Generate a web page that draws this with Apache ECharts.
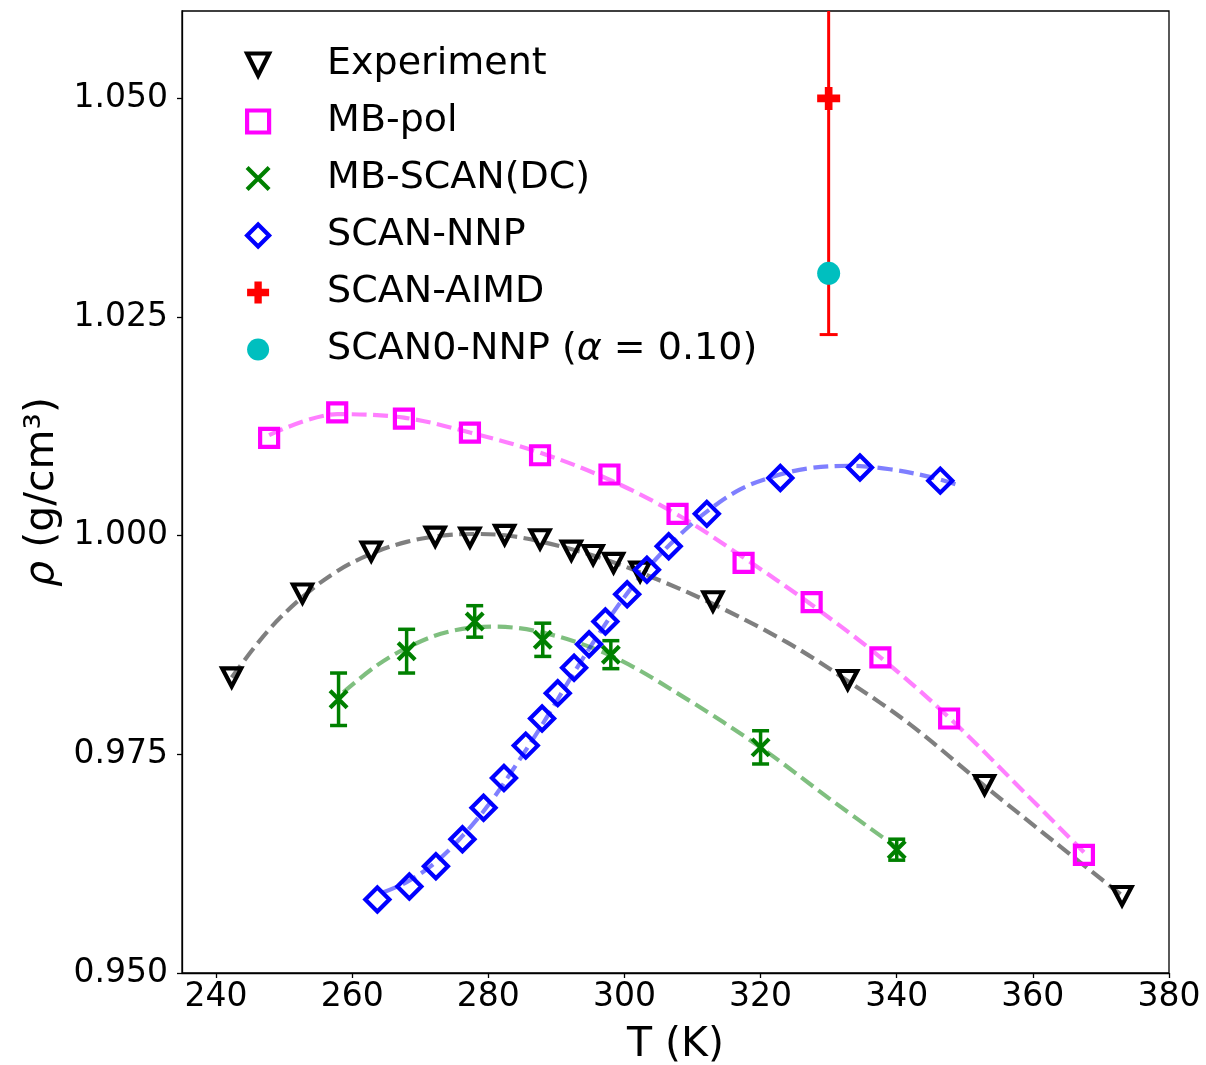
<!DOCTYPE html>
<html><head><meta charset="utf-8">
<script src="https://cdn.jsdelivr.net/npm/echarts@6/dist/echarts.min.js"></script>
<style>html,body{margin:0;padding:0;background:#fff}#c{width:1206px;height:1065px}</style>
</head><body><div id="c"></div>
<script>
// ---- data ----
const expT   = [242.3, 252.7, 262.8, 272.2, 277.3, 282.4, 287.6, 292.2, 295.4, 298.4, 302.3, 313.0, 332.8, 352.9, 373.1];
const expRho = [0.9838, 0.9934, 0.9982, 0.9999, 0.9998, 1.0001, 0.9996, 0.9983, 0.9978, 0.9969, 0.9959, 0.9925, 0.9835, 0.9715, 0.9588];

const mbpolT   = [247.8, 257.8, 267.6, 277.3, 287.6, 297.8, 307.8, 317.5, 327.5, 337.6, 347.7, 367.5];
const mbpolRho = [1.0112, 1.0141, 1.0134, 1.0118, 1.0092, 1.0070, 1.0025, 0.9969, 0.9924, 0.9861, 0.9791, 0.9635];

const mbscanT   = [258, 268, 278, 288, 298, 320, 340];
const mbscanRho = [0.9813, 0.9868, 0.9902, 0.9881, 0.9864, 0.9758, 0.9641];
const mbscanErr = [0.0030, 0.0025, 0.0018, 0.0019, 0.0016, 0.0019, 0.0012];

const nnpT   = [263.7, 268.4, 272.3, 276.2, 279.3, 282.3, 285.5, 287.9, 290.2, 292.6, 294.8, 297.2, 300.4, 303.3, 306.5, 312.1, 322.9, 334.6, 346.4];
const nnpRho = [0.9584, 0.9599, 0.9622, 0.9653, 0.9689, 0.9723, 0.9760, 0.9791, 0.9820, 0.9849, 0.9876, 0.9902, 0.9933, 0.9961, 0.9988, 1.0025, 1.0066, 1.0078, 1.0063];

const aimdT = [330], aimdRho = [1.050], aimdErr = [0.027];
const scan0T = [330], scan0Rho = [1.030];

// fitted (dashed) curves
const expFitT   = [242.3, 247.6, 252.7, 257.9, 263.0, 268.0, 273.0, 278.0, 283.0, 289.0, 296.0, 303.6, 313.0, 323.9, 332.8, 342.0, 352.9, 363.0, 373.2];
const expFitRho = [0.9838, 0.9891, 0.9930, 0.9960, 0.9980, 0.9993, 1.0000, 1.0002, 1.0000, 0.9991, 0.9976, 0.9954, 0.9922, 0.9878, 0.9834, 0.9784, 0.9714, 0.9651, 0.9588];

const mbpolFitT   = [247.8, 257.8, 267.6, 277.3, 287.6, 297.8, 307.8, 317.5, 327.5, 337.6, 347.7, 358.7, 367.5];
const mbpolFitRho = [1.0115, 1.0139, 1.0135, 1.0118, 1.0095, 1.0064, 1.0024, 0.9975, 0.9921, 0.9861, 0.9792, 0.9707, 0.9638];

const mbscanFitT   = [258.7, 263.5, 268.1, 274.0, 280.8, 288.7, 298.5, 309.0, 320.0, 330.0, 340.1];
const mbscanFitRho = [0.9821, 0.9851, 0.9872, 0.9890, 0.9896, 0.9888, 0.9861, 0.9814, 0.9758, 0.9700, 0.9643];

const nnpFitT   = [264.5, 268, 272, 276, 280, 284, 288, 292, 296, 300, 304, 308, 312, 317, 322, 327, 333, 339, 345, 349.4];
const nnpFitRho = [0.9592, 0.9604, 0.9625, 0.9655, 0.9692, 0.9737, 0.9785, 0.9836, 0.9885, 0.9930, 0.9968, 1.0000, 1.0027, 1.0053, 1.0068, 1.0077, 1.0080, 1.0076, 1.0067, 1.0057];

const xTicks = [240, 260, 280, 300, 320, 340, 360, 380];
const yTicks = [0.950, 0.975, 1.000, 1.025, 1.050];

// ---- styling ----
const FONT = 'DejaVu Sans';
const TRI_DOWN = 'path://M0,0L2,0L1,2Z';
const XMARK = 'path://M0,0L2,2M2,0L0,2';
const PLUS = 'path://M1,0H2V1H3V2H2V3H1V2H0V1H1Z';
const SCAN0_NAME = 'SCAN0-NNP (α = 0.10)';

function zip(a, b) { return a.map((v, i) => [v, b[i]]); }

function fitLine(name, T, R, color) {
  return { type: 'line', name: name, data: zip(T, R), symbol: 'none', showSymbol: false,
    smooth: 0.35,
    lineStyle: { color: color, width: 4.2, type: [15, 6.5] }, z: 1, silent: true };
}

function errSeries(name, T, R, E, color, lw, hw, z) {
  return {
    type: 'custom', name: name, z: z, silent: true,
    data: T.map((t, i) => [t, R[i] - E[i], R[i] + E[i]]),
    encode: { x: 0, y: [1, 2] },
    renderItem: function (params, api) {
      const x = api.value(0);
      const lo = api.coord([x, api.value(1)]);
      const hi = api.coord([x, api.value(2)]);
      const cs = params.coordSys;
      const top = Math.max(hi[1], cs.y);
      const st = { stroke: color, lineWidth: lw };
      const ch = [
        { type: 'line', shape: { x1: lo[0], y1: lo[1], x2: lo[0], y2: top }, style: st },
        { type: 'line', shape: { x1: lo[0] - hw, y1: lo[1], x2: lo[0] + hw, y2: lo[1] }, style: st }
      ];
      if (hi[1] >= cs.y) ch.push({ type: 'line', shape: { x1: hi[0] - hw, y1: hi[1], x2: hi[0] + hw, y2: hi[1] }, style: st });
      return { type: 'group', children: ch };
    }
  };
}

function hollow(color) { return { color: 'transparent', borderColor: color, borderWidth: 4.2, opacity: 1 }; }

const chart = echarts.init(document.getElementById('c'), null, { renderer: 'canvas' });
chart.setOption({
  animation: false,
  backgroundColor: '#fff',
  grid: { left: 182, right: 37, top: 11, bottom: 92, show: true, borderColor: '#000', borderWidth: 1.3,
          containLabel: false, outerBoundsMode: 'none' },
  xAxis: {
    type: 'value', min: 235, max: 380,
    axisLine: { show: true, onZero: false, lineStyle: { color: '#000', width: 1.3 } },
    axisTick: { show: true, length: 5, customValues: xTicks, lineStyle: { color: '#000', width: 1.3 } },
    axisLabel: { customValues: xTicks, fontSize: 33, fontFamily: FONT, color: '#000', margin: 8 },
    splitLine: { show: false },
    name: 'T (K)', nameLocation: 'middle', nameGap: 52,
    nameTextStyle: { fontSize: 41, fontFamily: FONT, color: '#000' }
  },
  yAxis: {
    type: 'value', min: 0.95, max: 1.06,
    axisLine: { show: true, onZero: false, lineStyle: { color: '#000', width: 1.3 } },
    axisTick: { show: true, length: 5, customValues: yTicks, lineStyle: { color: '#000', width: 1.3 } },
    axisLabel: { customValues: yTicks, fontSize: 33, fontFamily: FONT, color: '#000', margin: 14,
                 formatter: v => Number(v).toFixed(3) },
    splitLine: { show: false },
    name: '{i|ρ} (g/cm³)', nameLocation: 'middle', nameGap: 110,
    nameTextStyle: { fontSize: 41, fontFamily: FONT, color: '#000',
      rich: { i: { fontSize: 41, fontFamily: FONT, fontStyle: 'italic', color: '#000' } } }
  },
  legend: {
    orient: 'vertical', left: 240, top: 37, itemWidth: 22, itemHeight: 22, itemGap: 12,
    selectedMode: false,
    formatter: name => name === SCAN0_NAME ? '{t|SCAN0-NNP (}{a|α}{t| = 0.10)}' : name,
    textStyle: { fontSize: 38, fontFamily: FONT, color: '#000', lineHeight: 45, padding: [0, 0, 0, 53],
      rich: { t: { fontSize: 38, fontFamily: FONT, color: '#000', lineHeight: 45 },
              a: { fontSize: 38, fontFamily: FONT, fontStyle: 'italic', color: '#000', lineHeight: 45 } } },
    data: [
      { name: 'Experiment', icon: TRI_DOWN, itemStyle: hollow('#000') },
      { name: 'MB-pol', icon: 'rect', itemStyle: hollow('#ff00ff') },
      { name: 'MB-SCAN(DC)', icon: XMARK, itemStyle: hollow('#008000') },
      { name: 'SCAN-NNP', icon: 'diamond', itemStyle: hollow('#0000ff') },
      { name: 'SCAN-AIMD', icon: PLUS, itemStyle: { color: '#ff0000', borderWidth: 0, opacity: 1 } },
      { name: SCAN0_NAME, icon: 'circle', itemStyle: { color: '#00bfbf', borderWidth: 0, opacity: 1 } }
    ]
  },
  series: [
    fitLine('expFit', expFitT, expFitRho, 'rgba(0,0,0,0.5)'),
    fitLine('mbpolFit', mbpolFitT, mbpolFitRho, 'rgba(255,0,255,0.5)'),
    fitLine('mbscanFit', mbscanFitT, mbscanFitRho, 'rgba(0,128,0,0.5)'),
    fitLine('nnpFit', nnpFitT, nnpFitRho, 'rgba(0,0,255,0.5)'),
    errSeries('mbscanErr', mbscanT, mbscanRho, mbscanErr, '#008000', 3.5, 8.5, 2),
    errSeries('aimdErr', aimdT, aimdRho, aimdErr, '#ff0000', 3, 9, 2),
    { type: 'scatter', name: 'Experiment', data: zip(expT, expRho), symbol: TRI_DOWN, symbolSize: [19, 18],
      itemStyle: hollow('#000'), z: 3 },
    { type: 'scatter', name: 'MB-pol', data: zip(mbpolT, mbpolRho), symbol: 'rect', symbolSize: 18,
      itemStyle: hollow('#ff00ff'), z: 3 },
    { type: 'scatter', name: 'MB-SCAN(DC)', data: zip(mbscanT, mbscanRho), symbol: XMARK, symbolSize: 17,
      itemStyle: hollow('#008000'), z: 3 },
    { type: 'scatter', name: 'SCAN-NNP', data: zip(nnpT, nnpRho), symbol: 'diamond', symbolSize: 24,
      itemStyle: hollow('#0000ff'), z: 3 },
    { type: 'scatter', name: 'SCAN-AIMD', data: zip(aimdT, aimdRho), symbol: PLUS, symbolSize: 23,
      itemStyle: { color: '#ff0000', opacity: 1 }, z: 4 },
    { type: 'scatter', name: SCAN0_NAME, data: zip(scan0T, scan0Rho), symbol: 'circle', symbolSize: 23,
      itemStyle: { color: '#00bfbf', opacity: 1 }, z: 4 }
  ]
});
</script>
</body></html>
